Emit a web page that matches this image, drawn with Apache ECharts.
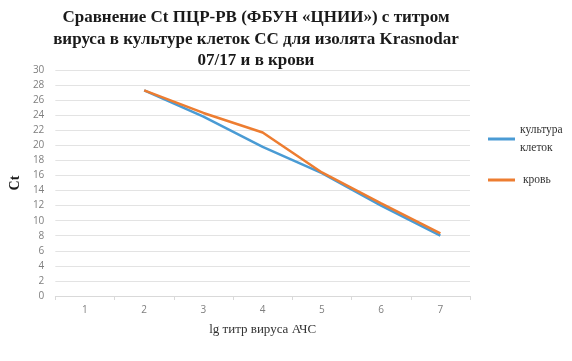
<!DOCTYPE html>
<html>
<head>
<meta charset="utf-8">
<script src="https://cdn.jsdelivr.net/npm/echarts@6/dist/echarts.min.js"></script>
<style>html,body{margin:0;padding:0;background:#fff}#c{width:572px;height:361px}</style>
</head>
<body>
<div id="c"></div>
<script>
var categories = ['1', '2', '3', '4', '5', '6', '7'];
var cultureValues = [null, 27.3, 23.8, 19.8, 16.3, 12.0, 8.0];
var bloodValues = [null, 27.3, 24.3, 21.7, 16.4, 12.3, 8.3];
var seriesNames = ['культура\nклеток', 'кровь'];
var titleText = 'Сравнение Ct ПЦР-РВ (ФБУН «ЦНИИ») с титром\nвируса в культуре клеток СС для изолята Krasnodar\n07/17 и в крови';

var chart = echarts.init(document.getElementById('c'));
var serif = '"Liberation Serif", "DejaVu Serif", serif';
chart.setOption({
  animation: false,
  title: {
    text: titleText,
    left: 251,
    textAlign: 'center',
    top: 2,
    textStyle: { fontFamily: serif, fontWeight: 'bold', fontSize: 17, lineHeight: 21.5, color: '#1a1a1a' }
  },
  legend: [{
    orient: 'vertical',
    left: 483,
    top: 116,
    itemWidth: 27,
    itemHeight: 3,
    icon: 'rect',
    data: [seriesNames[0]],
    textStyle: { fontFamily: serif, fontSize: 11.5, lineHeight: 18, color: '#333' }
  }, {
    orient: 'vertical',
    left: 483,
    top: 169,
    itemWidth: 27,
    itemHeight: 3,
    icon: 'rect',
    data: [seriesNames[1]],
    textStyle: { fontFamily: serif, fontSize: 11.5, color: '#333', padding: [0, 0, 0, 3] }
  }],
  grid: { left: 52, right: 102, top: 70, bottom: 65, containLabel: false },
  xAxis: {
    type: 'category',
    data: categories,
    boundaryGap: true,
    name: 'lg титр вируса АЧС',
    nameLocation: 'middle',
    nameGap: 27,
    nameTextStyle: { fontFamily: serif, fontSize: 13, color: '#333' },
    axisLine: { lineStyle: { color: '#d9d9d9', width: 1 } },
    axisTick: { show: true, length: 4, lineStyle: { color: '#d9d9d9' } },
    axisLabel: { fontFamily: '"Open Sans", "Liberation Sans", sans-serif', fontSize: 10, color: '#7f7f7f', margin: 9 }
  },
  yAxis: {
    type: 'value',
    min: 0,
    max: 30,
    interval: 2,
    name: 'Ct',
    nameLocation: 'middle',
    nameGap: 26,
    nameRotate: 90,
    nameTextStyle: { fontFamily: serif, fontWeight: 'bold', fontSize: 14, color: '#1a1a1a' },
    axisLine: { show: false },
    axisTick: { show: false },
    axisLabel: { fontFamily: '"Open Sans", "Liberation Sans", sans-serif', fontSize: 10, color: '#7f7f7f', margin: 11 },
    splitLine: { lineStyle: { color: '#e3e3e3', width: 1 } }
  },
  series: [{
    name: seriesNames[0],
    type: 'line',
    data: cultureValues,
    showSymbol: false,
    symbol: 'none',
    lineStyle: { color: '#4a9bd4', width: 2.5 },
    itemStyle: { color: '#4a9bd4' }
  }, {
    name: seriesNames[1],
    type: 'line',
    data: bloodValues,
    showSymbol: false,
    symbol: 'none',
    lineStyle: { color: '#ed7d31', width: 2.5 },
    itemStyle: { color: '#ed7d31' }
  }]
});
</script>
</body>
</html>
